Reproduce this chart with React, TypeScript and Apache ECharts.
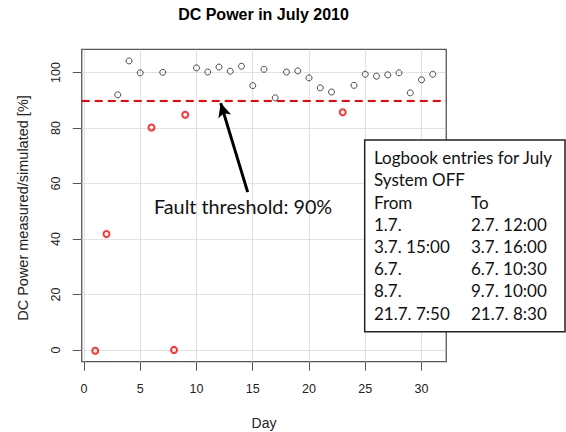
import React, { useEffect, useRef } from "react";
import * as echarts from "echarts";

const days = [1, 2, 3, 4, 5, 6, 7, 8, 9, 10, 11, 12, 13, 14, 15, 16, 17, 18, 19, 20, 21, 22, 23, 24, 25, 26, 27, 28, 29, 30, 31];
const ratio = [-0.3, 41.8, 92.0, 104.2, 99.9, 80.2, 100.1, 0.0, 84.8, 101.7, 100.2, 102.0, 100.5, 102.3, 95.3, 101.2, 90.9, 100.2, 100.6, 98.1, 94.5, 93.0, 85.7, 95.4, 99.4, 98.7, 99.2, 99.9, 92.7, 97.4, 99.4];
const threshold = 90;
const xTicks = [0, 5, 10, 15, 20, 25, 30];
const yTicks = [0, 20, 40, 60, 80, 100];
const titleText = "DC Power in July 2010";
const xName = "Day";
const yName = "DC Power measured/simulated [%]";
const annotation = "Fault threshold: 90%";
const arrowFrom = [14.55, 56.9];
const arrowTo = [12.15, 89.0];
const logTitle = ["Logbook entries for July", "System OFF"];
const logFrom = ["From", "1.7.", "3.7. 15:00", "6.7.", "8.7.", "21.7. 7:50"];
const logTo = ["To", "2.7. 12:00", "3.7. 16:00", "6.7. 10:30", "9.7. 10:00", "21.7. 8:30"];

const SANS = "'Liberation Sans', Arial, sans-serif";
const NOTE = "Lato, 'Open Sans', sans-serif";

export default function App() {
  const ref = useRef<HTMLDivElement>(null);
  useEffect(() => {
    if (!ref.current) return;
    const chart = echarts.init(ref.current, undefined, { renderer: "svg" });
    const ok: number[][] = [];
    const fault: number[][] = [];
    days.forEach((d, i) => {
      if (ratio[i] < threshold) fault.push([d, ratio[i]]);
      else ok.push([d, ratio[i]]);
    });
    const boxX = 364.7, boxY = 140, lineH = 22.2, col1 = 374, col2 = 471;
    const logFont = `17px ${NOTE}`;
    const logLines: any[] = [];
    logTitle.forEach((t, i) => {
      logLines.push({
        type: "text", x: col1, y: boxY + 17.7 + i * lineH, z: 101,
        style: { text: t, font: logFont, fill: "#111", textAlign: "left", textVerticalAlign: "middle" },
      });
    });
    logFrom.forEach((t, i) => {
      const y = boxY + 17.7 + (i + 2) * lineH;
      logLines.push({
        type: "text", x: col1, y, z: 101,
        style: { text: t, font: logFont, fill: "#111", textAlign: "left", textVerticalAlign: "middle" },
      });
      logLines.push({
        type: "text", x: col2, y, z: 101,
        style: { text: logTo[i], font: logFont, fill: "#111", textAlign: "left", textVerticalAlign: "middle" },
      });
    });

    chart.setOption({
      animation: false,
      backgroundColor: "#ffffff",
      title: {
        text: titleText,
        left: 263.5,
        top: 6,
        padding: 0,
        textAlign: "center",
        textStyle: { fontSize: 16, fontWeight: "bold", fontFamily: SANS, color: "#000" },
      },
      grid: {
        left: 81.75, top: 49.3, width: 364.5, height: 312.4,
        show: true, borderColor: "#555", borderWidth: 1.3, backgroundColor: "transparent",
      },
      xAxis: {
        type: "value", min: -0.2, max: 32.2,
        axisLine: { show: false, onZero: false },
        axisTick: { show: true, customValues: xTicks, length: 9, lineStyle: { color: "#555", width: 1 } },
        axisLabel: { customValues: xTicks, margin: 21, fontSize: 12.5, color: "#222", fontFamily: SANS },
        splitLine: { show: false },
      },
      yAxis: {
        type: "value", min: -4.25, max: 108.4,
        axisLine: { show: false, onZero: false },
        axisTick: { show: true, customValues: yTicks, length: 9, lineStyle: { color: "#555", width: 1 } },
        axisLabel: { customValues: yTicks, rotate: 90, margin: 19, fontSize: 12.5, color: "#222", fontFamily: SANS },
        splitLine: { show: false },
      },
      series: [
        {
          type: "scatter", data: [], silent: true,
          markLine: {
            silent: true, symbol: "none", z: 1, label: { show: false },
            lineStyle: { type: "dotted", color: "#c4c4c4", width: 1 },
            data: [...xTicks.map((v) => ({ xAxis: v })), ...yTicks.map((v) => ({ yAxis: v }))],
          },
        },
        {
          type: "scatter", data: ok, symbol: "circle", symbolSize: 6, z: 3,
          itemStyle: { color: "transparent", borderColor: "#222", borderWidth: 1 },
        },
        {
          type: "scatter", data: fault, symbol: "circle", symbolSize: 6, z: 3,
          itemStyle: { color: "transparent", borderColor: "#ff0000", borderWidth: 2 },
          markLine: {
            silent: true, symbol: "none", z: 4, label: { show: false },
            lineStyle: { type: [8, 5], color: "#ff0000", width: 2 },
            data: [{ yAxis: threshold }],
          },
        },
        {
          type: "scatter", data: [], silent: true,
          markLine: {
            silent: true, z: 6, label: { show: false },
            symbol: ["none", "arrow"], symbolSize: [10, 14],
            lineStyle: { type: "solid", color: "#000", width: 3 },
            data: [[{ coord: arrowFrom }, { coord: arrowTo }]],
          },
        },
      ],
      graphic: [
        {
          type: "text", x: 264, y: 423, z: 50,
          style: { text: xName, font: `14px ${SANS}`, fill: "#222", textAlign: "center", textVerticalAlign: "middle" },
        },
        {
          type: "text", x: 23.3, y: 208, rotation: Math.PI / 2, z: 50,
          style: { text: yName, font: `14.5px ${SANS}`, fill: "#222", textAlign: "center", textVerticalAlign: "middle" },
        },
        {
          type: "text", x: 154, y: 205.7, z: 50,
          style: { text: annotation, font: `19.8px ${NOTE}`, fill: "#111", textAlign: "left", textVerticalAlign: "middle" },
        },
        {
          type: "rect", z: 100,
          shape: { x: boxX, y: boxY, width: 200.3, height: 191.7 },
          style: { fill: "#fff", stroke: "#222", lineWidth: 1.5 },
        },
        ...logLines,
      ],
    });
    return () => chart.dispose();
  }, []);
  return <div ref={ref} style={{ position: "fixed", left: 0, top: 0, width: 566, height: 432 }} />;
}
